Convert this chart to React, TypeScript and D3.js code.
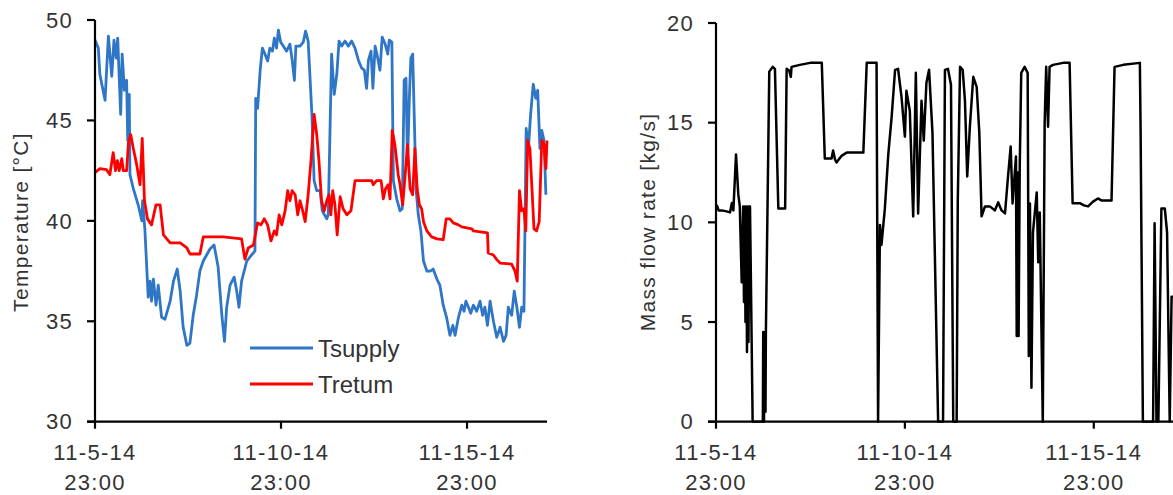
import React from "react";
import * as d3 from "d3";

// Time in days since 11-5-14 23:00
const tickDays = [0, 5, 10];
const tickLine1 = ["11-5-14", "11-10-14", "11-15-14"];
const tickLine2 = ["23:00", "23:00", "23:00"];
const tempTicks = [30, 35, 40, 45, 50];
const flowTicks = [0, 5, 10, 15, 20];

const supply: [number, number][] = [
  [0, 49.0], [0.09, 48.6], [0.13, 47.3], [0.27, 46.0], [0.36, 49.2], [0.45, 47.2], [0.51, 49.0], [0.57, 48.1],
  [0.61, 49.1], [0.69, 45.3], [0.73, 48.3], [0.79, 46.5], [0.85, 47.0], [0.88, 44.0], [0.92, 46.3], [0.94, 42.3],
  [1.03, 41.6], [1.16, 40.8], [1.26, 40.0], [1.28, 41.0], [1.34, 39.6], [1.43, 36.2], [1.48, 37.0], [1.52, 36.0],
  [1.57, 37.1], [1.64, 35.8], [1.70, 36.8], [1.79, 35.2], [1.88, 35.1], [2.02, 36.0], [2.11, 37.0], [2.21, 37.6],
  [2.29, 36.5], [2.37, 34.7], [2.47, 33.8], [2.55, 33.9], [2.64, 35.3], [2.73, 36.3], [2.82, 37.5], [2.91, 38.0],
  [3.00, 38.3], [3.09, 38.6], [3.20, 38.8], [3.31, 37.7], [3.41, 35.3], [3.48, 34.0], [3.54, 35.7], [3.63, 36.8],
  [3.74, 37.2], [3.81, 36.5], [3.87, 35.7], [3.94, 37.0], [4.08, 38.0], [4.21, 38.3], [4.30, 38.5], [4.32, 46.1],
  [4.37, 45.6], [4.44, 47.5], [4.50, 48.6], [4.57, 48.3], [4.64, 47.96], [4.70, 48.6], [4.77, 48.45], [4.82, 49.1],
  [4.88, 48.6], [4.93, 49.5], [4.99, 48.9], [5.06, 48.7], [5.15, 48.45], [5.24, 48.8], [5.30, 48.0], [5.36, 47.0],
  [5.40, 48.7], [5.51, 48.7], [5.60, 48.9], [5.66, 49.45], [5.73, 48.95], [5.83, 45.3], [5.89, 42.0], [5.96, 41.5],
  [6.05, 41.5], [6.11, 40.5], [6.23, 40.1], [6.27, 40.3], [6.36, 48.3], [6.43, 46.3], [6.50, 47.3], [6.56, 48.95],
  [6.63, 48.7], [6.72, 48.95], [6.81, 48.7], [6.90, 48.95], [6.99, 48.6], [7.08, 48.0], [7.17, 47.6], [7.24, 47.5],
  [7.30, 46.6], [7.35, 48.0], [7.42, 48.45], [7.47, 46.6], [7.53, 48.7], [7.60, 48.1], [7.66, 47.5], [7.72, 49.15],
  [7.80, 48.8], [7.87, 48.3], [7.91, 49.0], [7.98, 48.9], [8.02, 42.0], [8.11, 41.1], [8.20, 40.5], [8.26, 40.6],
  [8.31, 47.0], [8.36, 47.1], [8.40, 42.8], [8.45, 46.1], [8.49, 48.1], [8.54, 48.3], [8.58, 45.3], [8.63, 41.6],
  [8.69, 40.3], [8.76, 39.5], [8.83, 38.0], [8.92, 37.5], [9.01, 37.5], [9.09, 37.6], [9.19, 37.1], [9.27, 36.8],
  [9.36, 35.8], [9.45, 35.2], [9.54, 34.3], [9.62, 34.8], [9.68, 34.3], [9.77, 35.2], [9.86, 35.8], [9.92, 35.5],
  [9.97, 36.0], [10.04, 35.7], [10.10, 35.4], [10.17, 35.8], [10.26, 35.5], [10.35, 36.0], [10.42, 35.3], [10.48, 35.7],
  [10.55, 34.8], [10.62, 36.0], [10.71, 35.0], [10.80, 34.2], [10.89, 34.7], [10.98, 34.0], [11.05, 34.3], [11.11, 35.7],
  [11.20, 35.3], [11.27, 36.5], [11.34, 35.7], [11.41, 34.7], [11.47, 35.7], [11.53, 35.5], [11.59, 44.6], [11.65, 43.6],
  [11.71, 45.3], [11.78, 46.8], [11.85, 46.1], [11.90, 46.5], [11.96, 43.6], [12.01, 44.5], [12.07, 44.0], [12.12, 41.3],
];

const tretum: [number, number][] = [
  [0, 42.4], [0.13, 42.6], [0.31, 42.55], [0.40, 42.3], [0.49, 43.4], [0.55, 42.5], [0.60, 43.0], [0.65, 42.5],
  [0.72, 43.1], [0.76, 42.5], [0.85, 42.5], [0.90, 43.9], [0.96, 44.3], [1.03, 43.6], [1.12, 42.8], [1.21, 41.8],
  [1.27, 44.1], [1.33, 41.0], [1.41, 40.1], [1.52, 39.8], [1.64, 40.8], [1.75, 40.8], [1.84, 39.3], [2.02, 38.9],
  [2.29, 38.9], [2.47, 38.65], [2.55, 38.35], [2.82, 38.35], [2.91, 39.2], [3.45, 39.2], [3.94, 39.1], [4.03, 38.1],
  [4.12, 38.65], [4.26, 38.8], [4.37, 39.9], [4.46, 39.8], [4.55, 40.1], [4.64, 39.8], [4.73, 39.0], [4.82, 39.5],
  [4.88, 39.3], [4.95, 40.3], [5.02, 39.8], [5.11, 40.5], [5.18, 41.5], [5.24, 41.0], [5.30, 41.5], [5.38, 41.3],
  [5.45, 40.3], [5.51, 41.0], [5.57, 40.6], [5.65, 39.96], [5.73, 41.3], [5.81, 43.1], [5.89, 45.3], [5.96, 44.3],
  [6.02, 43.0], [6.09, 41.0], [6.16, 40.5], [6.23, 41.0], [6.29, 41.3], [6.34, 40.3], [6.39, 41.5], [6.45, 40.8],
  [6.51, 39.3], [6.59, 41.2], [6.67, 40.6], [6.77, 40.3], [6.88, 40.5], [6.99, 42.0], [7.44, 42.0], [7.48, 41.8],
  [7.57, 42.0], [7.69, 42.0], [7.75, 41.1], [7.81, 41.6], [7.88, 41.8], [7.93, 41.1], [7.99, 44.5], [8.06, 43.8],
  [8.15, 42.3], [8.20, 41.8], [8.27, 40.8], [8.33, 42.1], [8.40, 43.8], [8.47, 41.6], [8.54, 41.3], [8.60, 43.6],
  [8.66, 41.6], [8.72, 40.8], [8.78, 40.6], [8.83, 39.96], [8.92, 39.5], [9.05, 39.2], [9.19, 39.1], [9.36, 39.06],
  [9.44, 40.1], [9.54, 40.1], [9.63, 39.9], [9.77, 39.8], [9.86, 39.7], [10.13, 39.6], [10.17, 39.5], [10.55, 39.4],
  [10.57, 38.4], [10.71, 38.3], [10.80, 38.07], [10.89, 37.9], [11.20, 37.85], [11.29, 37.5], [11.35, 37.0], [11.41, 41.5],
  [11.47, 40.5], [11.53, 40.6], [11.58, 39.5], [11.63, 44.0], [11.69, 43.6], [11.76, 41.1], [11.80, 39.6], [11.87, 39.5],
  [11.94, 39.96], [12.01, 44.0], [12.07, 43.8], [12.12, 42.6], [12.15, 44.0],
];

const flow: [number, number][] = [
  [0.02, 10.87], [0.07, 10.6], [0.15, 10.6], [0.28, 10.55], [0.37, 10.5], [0.42, 10.97], [0.46, 10.6], [0.53, 13.4],
  [0.59, 11.4], [0.63, 10.8], [0.68, 7.0], [0.72, 10.8], [0.74, 6.0], [0.76, 10.8], [0.78, 5.0], [0.80, 10.8],
  [0.82, 3.5], [0.84, 10.8], [0.86, 4.0], [0.88, 10.8], [0.90, 10.8], [0.97, 0], [1.24, 0], [1.25, 4.5], [1.27, 0],
  [1.29, 4.5], [1.31, 0.5], [1.32, 4.4],
  [1.41, 17.56], [1.50, 17.8], [1.56, 17.7], [1.65, 10.7], [1.83, 10.7], [1.87, 17.7], [1.94, 17.6], [1.98, 17.3],
  [2.00, 17.8], [2.22, 17.9], [2.49, 18.0], [2.80, 18.0], [2.88, 13.2], [3.06, 13.2], [3.10, 13.6], [3.15, 13.15],
  [3.19, 13.0], [3.33, 13.35], [3.46, 13.5], [3.90, 13.5], [3.99, 18.0], [4.25, 18.0], [4.29, 0], [4.34, 9.87],
  [4.38, 8.87], [4.47, 10.7], [4.56, 13.4], [4.65, 15.3], [4.74, 17.65], [4.82, 17.7], [4.91, 16.3], [5.00, 14.3],
  [5.04, 16.6], [5.13, 15.6], [5.22, 10.3], [5.29, 17.5], [5.35, 10.45], [5.44, 16.1], [5.50, 14.1], [5.57, 17.0],
  [5.64, 17.65], [5.73, 14.5], [5.88, 0], [6.01, 0], [6.06, 17.65], [6.14, 17.7], [6.22, 16.9], [6.28, 0],
  [6.37, 0], [6.40, 11.1], [6.46, 17.8], [6.53, 17.65], [6.59, 16.1], [6.65, 12.3], [6.72, 14.8], [6.81, 17.3],
  [6.90, 16.8], [6.97, 14.5], [7.03, 10.3], [7.12, 10.8], [7.25, 10.8], [7.38, 10.6], [7.47, 11.0], [7.56, 10.6],
  [7.65, 10.45], [7.73, 12.3], [7.80, 13.8], [7.85, 10.95], [7.94, 13.3], [7.96, 4.3], [7.99, 12.5], [8.01, 4.3],
  [8.04, 12.8], [8.08, 17.5], [8.17, 17.8], [8.25, 17.5], [8.28, 3.3], [8.31, 10.95], [8.35, 1.7], [8.39, 9.5],
  [8.49, 11.5], [8.53, 8.0], [8.57, 10.5], [8.65, 0], [8.70, 15.0], [8.74, 17.8], [8.79, 14.8], [8.83, 17.8],
  [8.92, 17.9], [9.19, 18.0], [9.36, 18.0], [9.44, 10.96], [9.63, 10.96], [9.74, 10.85], [9.85, 10.8], [9.98, 11.04],
  [10.11, 11.2], [10.20, 11.1], [10.47, 11.1], [10.55, 17.8], [10.78, 17.9], [11.22, 18.0], [11.24, 14.5], [11.30, 0],
  [11.57, 0], [11.61, 9.95], [11.66, 0], [11.71, 0], [11.79, 10.7], [11.88, 10.7], [11.94, 9.5], [12.01, 0],
  [12.06, 6.27], [12.2, 6.27],
];

const FONT = "'Liberation Sans', Arial, sans-serif";
const TXT = "#333";

export default function App() {
  const W = 1173, H = 495;
  const base = 421.7;
  // left panel scales
  const xL = d3.scaleLinear().domain([0, 12.15]).range([95, 547]);
  const yL = d3.scaleLinear().domain([30, 50]).range([base, 20]);
  // right panel scales
  const xR = d3.scaleLinear().domain([0, 12.15]).range([716, 1175]);
  const yR = d3.scaleLinear().domain([0, 20]).range([base, 23]);

  const lineL = d3.line<[number, number]>().x((d) => xL(d[0])).y((d) => yL(d[1]));
  const lineR = d3.line<[number, number]>().x((d) => xR(d[0])).y((d) => yR(d[1]));

  const tickStyle = { fontFamily: FONT, fontSize: 22, fill: TXT, letterSpacing: 1.3 } as const;

  const yAxis = (x0: number, ys: d3.ScaleLinear<number, number>, ticks: number[], key: string) => (
    <g key={key}>
      <line x1={x0} x2={x0} y1={ys(ticks[ticks.length - 1])} y2={base} stroke="#000" strokeWidth={2.2} />
      {ticks.map((t) => (
        <g key={t}>
          <line x1={x0 - 8} x2={x0} y1={ys(t)} y2={ys(t)} stroke="#000" strokeWidth={2.2} />
          <text x={x0 - 22} y={ys(t)} dy="0.35em" textAnchor="end" style={tickStyle}>{t}</text>
        </g>
      ))}
    </g>
  );

  const xAxis = (xs: d3.ScaleLinear<number, number>, xEnd: number, key: string) => (
    <g key={key}>
      <line x1={xs(0) - 8} x2={xEnd} y1={base} y2={base} stroke="#000" strokeWidth={2.2} />
      {tickDays.map((t, i) => (
        <g key={t}>
          <line x1={xs(t)} x2={xs(t)} y1={base} y2={base + 7} stroke="#000" strokeWidth={2.2} />
          <text x={xs(t)} y={460} textAnchor="middle" style={tickStyle}>{tickLine1[i]}</text>
          <text x={xs(t)} y={490} textAnchor="middle" style={tickStyle}>{tickLine2[i]}</text>
        </g>
      ))}
    </g>
  );

  return (
    <svg width={W} height={H} style={{ position: "absolute", left: 0, top: 0, background: "#fff" }}>
      <rect width={W} height={H} fill="#fff" />
      <defs>
        <clipPath id="clipR">
          <rect x={716} y={0} width={W - 716} height={base + 1} />
        </clipPath>
      </defs>

      {/* Left panel */}
      <path d={lineL(supply) || ""} fill="none" stroke="#2f77c6" strokeWidth={2.8} strokeLinejoin="round" />
      <path d={lineL(tretum) || ""} fill="none" stroke="#ff0000" strokeWidth={2.8} strokeLinejoin="round" />
      {yAxis(95, yL, tempTicks, "yl")}
      {xAxis(xL, 547, "xl")}
      <text
        transform={`translate(28,222) rotate(-90)`}
        textAnchor="middle"
        style={{ fontFamily: FONT, fontSize: 21, fill: TXT, letterSpacing: 1.3 }}
      >
        Temperature  [°C]
      </text>
      {/* legend */}
      <line x1={250} x2={313} y1={348} y2={348} stroke="#2f77c6" strokeWidth={2.8} />
      <text x={318} y={357} style={{ fontFamily: FONT, fontSize: 24, fill: TXT }}>Tsupply</text>
      <line x1={250} x2={313} y1={384} y2={384} stroke="#ff0000" strokeWidth={2.8} />
      <text x={318} y={393} style={{ fontFamily: FONT, fontSize: 24, fill: TXT }}>Tretum</text>

      {/* Right panel */}
      <path d={lineR(flow) || ""} fill="none" stroke="#000" strokeWidth={2.5} strokeLinejoin="round" clipPath="url(#clipR)" />
      {yAxis(716, yR, flowTicks, "yr")}
      {xAxis(xR, W, "xr")}
      <text
        transform={`translate(655,222) rotate(-90)`}
        textAnchor="middle"
        style={{ fontFamily: FONT, fontSize: 21, fill: TXT, letterSpacing: 1.3 }}
      >
        Mass flow rate [kg/s]
      </text>
    </svg>
  );
}
